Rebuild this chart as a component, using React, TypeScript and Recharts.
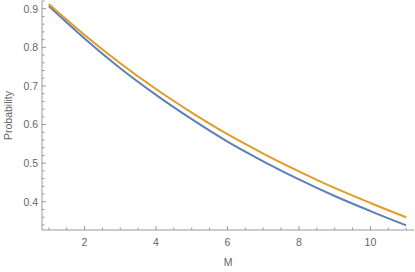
import React from 'react';
import { LineChart, Line, XAxis, YAxis } from 'recharts';

// values
const mValues = [1, 2, 3, 4, 5, 6, 7, 8, 9, 10, 11];
const blueProb = [0.907, 0.823, 0.746, 0.677, 0.614, 0.556, 0.505, 0.458, 0.415, 0.376, 0.339];
const orangeProb = [0.912, 0.832, 0.759, 0.692, 0.631, 0.575, 0.525, 0.479, 0.436, 0.397, 0.36];

const xTicks = [1, 1.5, 2, 2.5, 3, 3.5, 4, 4.5, 5, 5.5, 6, 6.5, 7, 7.5, 8, 8.5, 9, 9.5, 10, 10.5, 11];
const xLabels = [2, 4, 6, 8, 10];
const yTicks = [0.34, 0.36, 0.38, 0.4, 0.42, 0.44, 0.46, 0.48, 0.5, 0.52, 0.54, 0.56, 0.58, 0.6, 0.62, 0.64, 0.66, 0.68, 0.7, 0.72, 0.74, 0.76, 0.78, 0.8, 0.82, 0.84, 0.86, 0.88, 0.9, 0.92];
const yLabels = [0.4, 0.5, 0.6, 0.7, 0.8, 0.9];

const data = mValues.map((m, i) => ({ m, blue: blueProb[i], orange: orangeProb[i] }));

const axisColor = '#999';
const textColor = '#666';
const font = '"Liberation Sans", Arial, sans-serif';

const isMajor = (list: number[], v: number) => list.some((l) => Math.abs(l - v) < 1e-6);

const XTick = (props: any) => {
  const { x, y, payload } = props;
  const major = isMajor(xLabels, payload.value);
  return (
    <g>
      <line x1={x} x2={x} y1={y} y2={y - (major ? 4 : 2.5)} stroke={axisColor} strokeWidth={1} />
      {major && (
        <text x={x} y={y + 15.5} textAnchor="middle" fontSize={10.5} fill={textColor} fontFamily={font}>
          {payload.value}
        </text>
      )}
    </g>
  );
};

const YTick = (props: any) => {
  const { x, y, payload } = props;
  const major = isMajor(yLabels, payload.value);
  return (
    <g>
      <line x1={x} x2={x + (major ? 4 : 2.5)} y1={y} y2={y} stroke={axisColor} strokeWidth={1} />
      {major && (
        <text x={x - 4} y={y + 3.8} textAnchor="end" fontSize={10.5} fill={textColor} fontFamily={font}>
          {payload.value.toFixed(1)}
        </text>
      )}
    </g>
  );
};

export default function App() {
  return (
    <div style={{ position: 'absolute', left: 0, top: 0, background: '#fff' }}>
      <LineChart width={415} height={272} data={data} margin={{ top: 1, right: 1, bottom: 0, left: 0 }}>
        <XAxis
          dataKey="m"
          type="number"
          domain={[0.81, 11.22]}
          allowDataOverflow
          ticks={xTicks}
          interval={0}
          tick={<XTick />}
          tickLine={false}
          tickSize={0}
          tickMargin={0}
          height={42}
          stroke={axisColor}
          label={{
            content: ({ viewBox }: any) => (
              <text
                x={viewBox.x + viewBox.width / 2}
                y={viewBox.y + 36}
                textAnchor="middle"
                fontSize={10.5}
                fill={textColor}
                fontFamily={font}
              >
                M
              </text>
            ),
          }}
        />
        <YAxis
          type="number"
          domain={[0.327, 0.92]}
          allowDataOverflow
          ticks={yTicks}
          interval={0}
          tick={<YTick />}
          tickLine={false}
          tickSize={0}
          tickMargin={0}
          width={42}
          stroke={axisColor}
          label={{
            content: ({ viewBox }: any) => {
              const cx = viewBox.x + 12;
              const cy = viewBox.y + viewBox.height / 2;
              return (
                <text
                  x={cx}
                  y={cy}
                  transform={`rotate(-90 ${cx} ${cy})`}
                  textAnchor="middle"
                  fontSize={10.5}
                  fill={textColor}
                  fontFamily={font}
                >
                  Probability
                </text>
              );
            },
          }}
        />
        <Line type="monotone" dataKey="blue" stroke="#5E81B5" strokeWidth={2} dot={false} isAnimationActive={false} />
        <Line type="monotone" dataKey="orange" stroke="#E19C24" strokeWidth={2} dot={false} isAnimationActive={false} />
      </LineChart>
    </div>
  );
}
